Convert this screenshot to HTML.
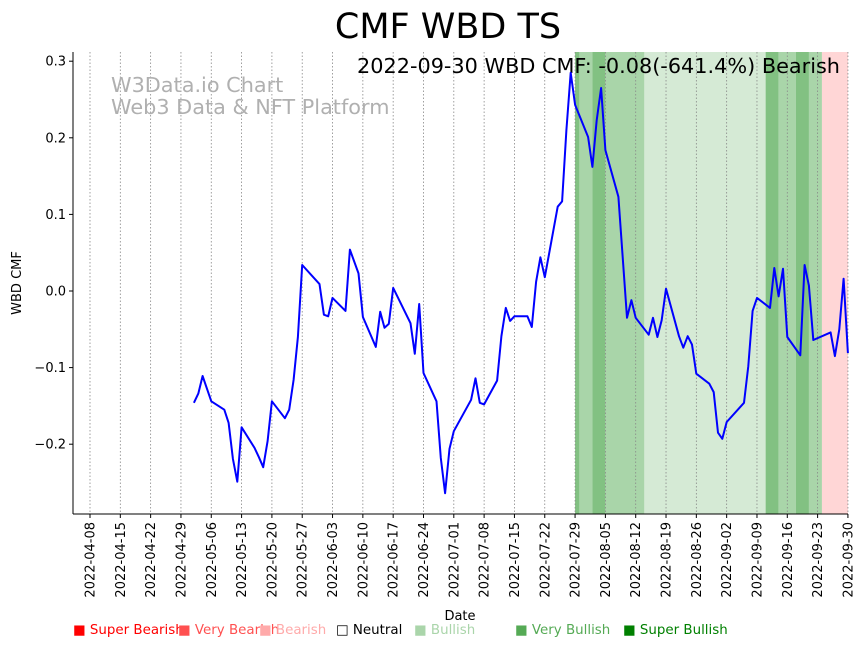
<!DOCTYPE html>
<html><head><meta charset="utf-8"><style>
body{margin:0;background:#fff;font-family:"DejaVu Sans","Liberation Sans",sans-serif}
svg text{font-family:"DejaVu Sans","Liberation Sans",sans-serif}
</style></head><body>
<svg id="chart" width="864" height="646" xmlns="http://www.w3.org/2000/svg">
<text x="448" y="38" font-size="35" text-anchor="middle">CMF WBD TS</text>
<g id="bands"></g>
<g id="grid"></g>
<text x="111" y="92" font-size="20.8" fill="#b0b0b0">W3Data.io Chart</text>
<text x="111" y="114" font-size="20.8" fill="#b0b0b0">Web3 Data &amp; NFT Platform</text>
<text x="840" y="73" font-size="20.8" text-anchor="end">2022-09-30 WBD CMF: -0.08(-641.4%) Bearish</text>
<g id="series"></g>
<g id="axes"></g>
<text transform="translate(21,283) rotate(-90)" font-size="13" text-anchor="middle">WBD CMF</text>
<text x="460" y="620" font-size="13" text-anchor="middle">Date</text>
<g font-size="13.4">
<text x="73" y="634" fill="#ff0000">■ Super Bearish</text>
<text x="178" y="634" fill="#ff5050">■ Very Bearish</text>
<text x="259" y="634" fill="#ffaaaa">■ Bearish</text>
<text x="336" y="634" fill="#000">□ Neutral</text>
<text x="414" y="634" fill="#aad5aa">■ Bullish</text>
<text x="515" y="634" fill="#55aa55">■ Very Bullish</text>
<text x="623" y="634" fill="#008000">■ Super Bullish</text>
</g>
</svg>
<script>
const dates=["2022-05-02","2022-05-03","2022-05-04","2022-05-06","2022-05-09","2022-05-10","2022-05-11","2022-05-12","2022-05-13","2022-05-16","2022-05-17","2022-05-18","2022-05-19","2022-05-20","2022-05-23","2022-05-24","2022-05-25","2022-05-26","2022-05-27","2022-05-31","2022-06-01","2022-06-02","2022-06-03","2022-06-06","2022-06-07","2022-06-09","2022-06-10","2022-06-13","2022-06-14","2022-06-15","2022-06-16","2022-06-17","2022-06-21","2022-06-22","2022-06-23","2022-06-24","2022-06-27","2022-06-28","2022-06-29","2022-06-30","2022-07-01","2022-07-05","2022-07-06","2022-07-07","2022-07-08","2022-07-11","2022-07-12","2022-07-13","2022-07-14","2022-07-15","2022-07-18","2022-07-19","2022-07-20","2022-07-21","2022-07-22","2022-07-25","2022-07-26","2022-07-27","2022-07-28","2022-07-29","2022-08-01","2022-08-02","2022-08-03","2022-08-04","2022-08-05","2022-08-08","2022-08-10","2022-08-11","2022-08-12","2022-08-15","2022-08-16","2022-08-17","2022-08-18","2022-08-19","2022-08-22","2022-08-23","2022-08-24","2022-08-25","2022-08-26","2022-08-29","2022-08-30","2022-08-31","2022-09-01","2022-09-02","2022-09-06","2022-09-07","2022-09-08","2022-09-09","2022-09-12","2022-09-13","2022-09-14","2022-09-15","2022-09-16","2022-09-19","2022-09-20","2022-09-21","2022-09-22","2022-09-26","2022-09-27","2022-09-28","2022-09-29","2022-09-30"];
const cmfValues=[-0.146,-0.134,-0.111,-0.144,-0.155,-0.172,-0.219,-0.249,-0.178,-0.205,-0.217,-0.230,-0.196,-0.144,-0.166,-0.155,-0.116,-0.060,0.034,0.009,-0.031,-0.033,-0.009,-0.026,0.054,0.023,-0.034,-0.073,-0.027,-0.048,-0.043,0.004,-0.042,-0.082,-0.017,-0.107,-0.144,-0.218,-0.264,-0.206,-0.183,-0.142,-0.114,-0.146,-0.148,-0.117,-0.059,-0.022,-0.039,-0.033,-0.033,-0.047,0.012,0.044,0.018,0.110,0.117,0.210,0.285,0.243,0.201,0.162,0.223,0.265,0.184,0.123,-0.035,-0.012,-0.035,-0.057,-0.035,-0.060,-0.038,0.003,-0.059,-0.074,-0.059,-0.070,-0.108,-0.121,-0.132,-0.185,-0.193,-0.171,-0.146,-0.098,-0.026,-0.009,-0.022,0.030,-0.007,0.029,-0.060,-0.084,0.034,0.007,-0.064,-0.054,-0.085,-0.050,0.016,-0.081];
const bandStart=["2022-07-29","2022-07-30","2022-08-02","2022-08-05","2022-08-14","2022-09-11","2022-09-14","2022-09-18","2022-09-21","2022-09-24"];
const bandEnd=["2022-07-30","2022-08-02","2022-08-05","2022-08-14","2022-09-11","2022-09-14","2022-09-18","2022-09-21","2022-09-24","2022-10-01"];
const bandLevel=["very","bull","very","bull","light","very","bull","very","bull","bear"];
const yTicks=[-0.2,-0.1,0.0,0.1,0.2,0.3];
const xTicks=["2022-04-08","2022-04-15","2022-04-22","2022-04-29","2022-05-06","2022-05-13","2022-05-20","2022-05-27","2022-06-03","2022-06-10","2022-06-17","2022-06-24","2022-07-01","2022-07-08","2022-07-15","2022-07-22","2022-07-29","2022-08-05","2022-08-12","2022-08-19","2022-08-26","2022-09-02","2022-09-09","2022-09-16","2022-09-23","2022-09-30"];
const NS="http://www.w3.org/2000/svg";
const L=73,R=848,T=52,B=514;
const t0=Date.UTC(2022,3,8);
function day(s){const p=s.split("-");return (Date.UTC(+p[0],p[1]-1,+p[2])-t0)/86400000;}
function X(s){return 90+day(s)*4.331;}
function Y(v){return 291-v*766;}
function mk(tag,attrs,parent){const e=document.createElementNS(NS,tag);for(const k in attrs)e.setAttribute(k,attrs[k]);parent.appendChild(e);return e;}
const colors={very:"#82c182",bull:"#a9d5a9",light:"#d5ead5",bear:"#ffd6d6"};
const bg=document.getElementById("bands");
bandStart.forEach((s,i)=>{
 const x1=Math.max(L,X(s)), x2=Math.min(R,X(bandEnd[i]));
 const r=mk("rect",{x:x1,y:T,width:x2-x1,height:B-T,fill:colors[bandLevel[i]]},bg);
 
 
});
const gg=document.getElementById("grid"), ax=document.getElementById("axes");
xTicks.forEach(s=>{
 const x=X(s);
 const g=mk("line",{x1:x,x2:x,y1:T,y2:B,stroke:"#888",'stroke-width':0.8,'stroke-dasharray':"1.5,2"},gg);
 
 
 mk("line",{x1:x,x2:x,y1:B,y2:B+4,stroke:"#000"},ax);
 const t=mk("text",{transform:`translate(${x+4.5},${B+8}) rotate(-90)`,'font-size':13,'text-anchor':"end"},ax);
 t.textContent=s;
 
 
});
yTicks.forEach(v=>{
 const y=Y(v);
 mk("line",{x1:L-4,x2:L,y1:y,y2:y,stroke:"#000"},ax);
 const t=mk("text",{x:L-7,y:y+4.5,'font-size':13,'text-anchor':"end"},ax);
 t.textContent=(v<0?"\u2212":"")+Math.abs(v).toFixed(1);
 
 
});
mk("line",{x1:L,x2:L,y1:T,y2:B,stroke:"#000",'stroke-width':1},ax);
mk("line",{x1:L,x2:R,y1:B,y2:B,stroke:"#000",'stroke-width':1},ax);
const pts=dates.map((d,i)=>X(d).toFixed(1)+","+Y(cmfValues[i]).toFixed(1)).join(" ");
const line=mk("polyline",{points:pts,fill:"none",stroke:"#0000ff",'stroke-width':2,'stroke-linejoin':"round"},document.getElementById("series"));


</script>
</body></html>
